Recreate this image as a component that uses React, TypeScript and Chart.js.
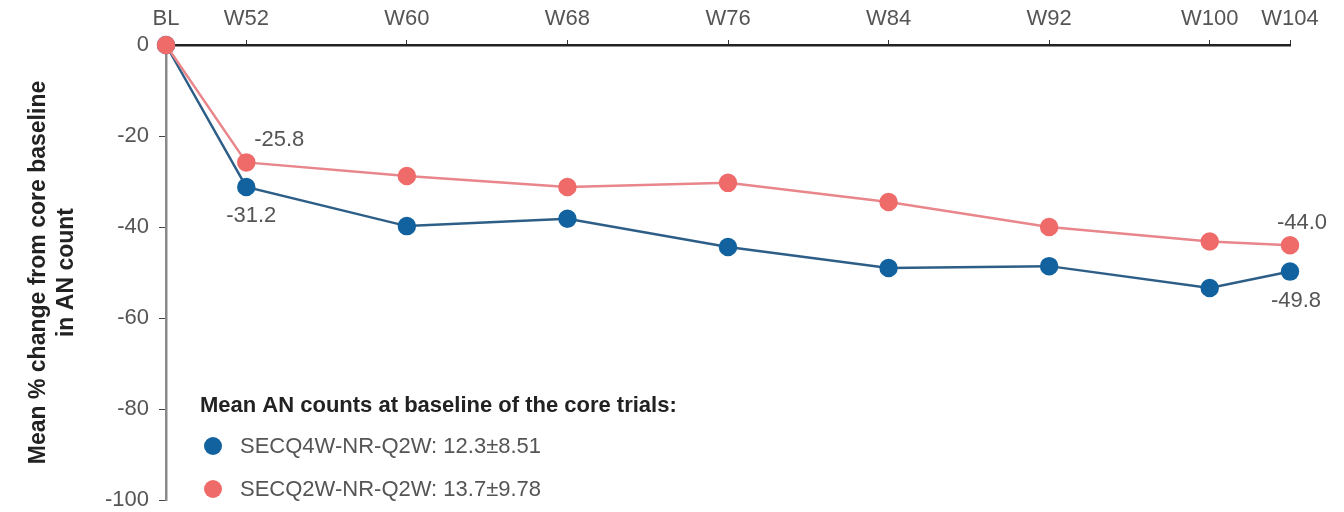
import { useEffect, useRef } from 'react';
import { Chart, registerables } from 'chart.js';

Chart.register(...registerables);

// Visit weeks (BL sits just left of W52 on the week axis)
const weekLabels = ['BL', 'W52', 'W60', 'W68', 'W76', 'W84', 'W92', 'W100', 'W104'];
const weekPositions = [48, 52, 60, 68, 76, 84, 92, 100, 104];

// Mean % change from core baseline in AN count
const q2wName = 'SECQ2W-NR-Q2W';
const q2wChange = [0, -25.8, -28.8, -31.2, -30.3, -34.5, -40.0, -43.2, -44.0];
const q2wBaseline = '13.7±9.78';

const q4wName = 'SECQ4W-NR-Q2W';
const q4wChange = [0, -31.2, -39.8, -38.2, -44.4, -49.0, -48.6, -53.4, -49.8];
const q4wBaseline = '12.3±8.51';

const yTitle = ['Mean % change from core baseline', 'in AN count'];
const legendTitle = 'Mean AN counts at baseline of the core trials:';
// visits whose value is printed next to the marker
const labelledVisits = [1, 8];

const RED = '#ef6b6a';
const RED_LINE = '#e8868b';
const BLUE = '#12629f';
const BLUE_LINE = '#2d5e87';
const FONT = '"Liberation Sans", Arial, sans-serif';

const annotate = {
  id: 'annotate',
  afterDatasetsDraw(chart: any) {
    const { ctx } = chart;
    ctx.save();
    ctx.font = `22px ${FONT}`;
    ctx.fillStyle = '#555';
    ctx.textAlign = 'center';
    ctx.textBaseline = 'middle';
    // first series labelled above its markers, second series below
    chart.data.datasets.forEach((ds: any, di: number) => {
      const meta = chart.getDatasetMeta(di);
      labelledVisits.forEach((vi) => {
        const pt = meta.data[vi];
        const v = ds.data[vi].y as number;
        const first = vi === labelledVisits[0];
        const above = di === 0;
        const dx = above ? (first ? 33 : 12) : first ? 5 : 6;
        const dy = above ? -22 : 29;
        ctx.fillText(v.toFixed(1), pt.x + dx, pt.y + dy);
      });
    });

    // baseline-count key
    const x0 = 200;
    ctx.textAlign = 'left';
    ctx.fillStyle = '#222';
    ctx.font = `bold 22px ${FONT}`;
    ctx.fillText(legendTitle, x0, 406);
    const rows = [
      { color: BLUE, text: `${q4wName}: ${q4wBaseline}`, y: 446 },
      { color: RED, text: `${q2wName}: ${q2wBaseline}`, y: 489 },
    ];
    rows.forEach((r) => {
      ctx.beginPath();
      ctx.arc(x0 + 13, r.y, 9, 0, Math.PI * 2);
      ctx.fillStyle = r.color;
      ctx.fill();
      ctx.fillStyle = '#555';
      ctx.font = `22px ${FONT}`;
      ctx.fillText(r.text, x0 + 40, r.y + 1);
    });
    ctx.restore();
  },
};

export default function App() {
  const ref = useRef<HTMLCanvasElement | null>(null);

  useEffect(() => {
    document.body.style.margin = '0';
    if (!ref.current) return;
    const toPts = (vals: number[]) => vals.map((y, i) => ({ x: weekPositions[i], y }));
    const chart = new Chart(ref.current, {
      type: 'line',
      data: {
        datasets: [
          {
            label: q2wName,
            data: toPts(q2wChange),
            borderColor: RED_LINE,
            backgroundColor: RED,
            pointBackgroundColor: RED,
            pointBorderColor: RED,
            pointRadius: 8,
            borderWidth: 2.5,
            clip: false as any,
          },
          {
            label: q4wName,
            data: toPts(q4wChange),
            borderColor: BLUE_LINE,
            backgroundColor: BLUE,
            pointBackgroundColor: BLUE,
            pointBorderColor: BLUE,
            pointRadius: 8,
            borderWidth: 2.5,
            clip: false as any,
          },
        ],
      },
      options: {
        responsive: false,
        animation: false,
        layout: { padding: { left: 25, right: 54, top: 0, bottom: 12 } },
        plugins: { legend: { display: false }, tooltip: { enabled: false } },
        scales: {
          x: {
            type: 'linear',
            position: 'top',
            min: 48,
            max: 104,
            afterBuildTicks: (s: any) => {
              s.ticks = weekPositions.map((value) => ({ value }));
            },
            afterFit: (s: any) => {
              s.height = 45;
              s.paddingLeft = 0;
              s.paddingRight = 0;
            },
            ticks: {
              autoSkip: false,
              maxRotation: 0,
              padding: 8,
              color: '#555',
              font: { family: FONT, size: 22 },
              callback: (v: any) => {
                const i = weekPositions.indexOf(Number(v));
                return i >= 0 ? weekLabels[i] : '';
              },
            },
            grid: { drawOnChartArea: false, tickLength: 5, color: '#333' },
            border: { color: '#222', width: 2.5 },
          },
          y: {
            min: -100,
            max: 0,
            afterFit: (s: any) => {
              s.width = 141;
              s.paddingTop = 0;
              s.paddingBottom = 0;
            },
            ticks: {
              stepSize: 20,
              padding: 10,
              color: '#555',
              font: { family: FONT, size: 22 },
            },
            title: {
              display: true,
              text: yTitle,
              color: '#222',
              padding: 0,
              font: { family: FONT, size: 23, weight: 'bold' },
            },
            grid: { drawOnChartArea: false, tickLength: 7, color: '#444' },
            border: { color: '#8a8a8a', width: 2.5 },
          },
        },
      },
      plugins: [annotate],
    });
    return () => chart.destroy();
  }, []);

  return <canvas ref={ref} width={1344} height={512} />;
}
